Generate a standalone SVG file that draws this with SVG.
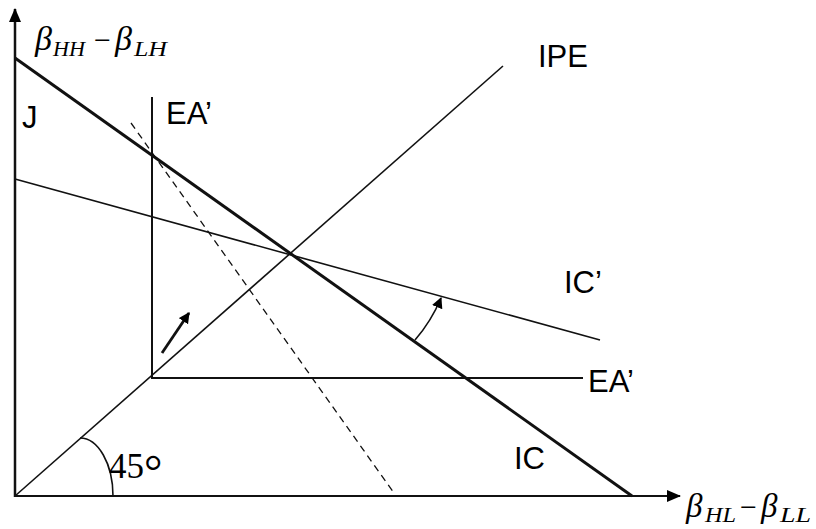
<svg xmlns="http://www.w3.org/2000/svg" width="816" height="529" viewBox="0 0 816 529">
<defs>
<marker id="ah" viewBox="0 0 10 10" refX="9" refY="5" markerWidth="11" markerHeight="11" markerUnits="userSpaceOnUse" orient="auto">
<path d="M0,0 L10,5 L0,10 z" fill="#000"/>
</marker>
<marker id="axh" viewBox="0 0 14 12" refX="13" refY="6" markerWidth="14" markerHeight="12" markerUnits="userSpaceOnUse" orient="auto">
<path d="M0,0 L14,6 L0,12 z" fill="#000"/>
</marker>
</defs>
<style>
.lbl{font-family:"Liberation Sans",Arial,sans-serif;font-size:31px;fill:#000}
.sym{font-family:"Liberation Serif","Times New Roman",serif;font-style:italic;fill:#000}
.up{font-family:"Liberation Serif","Times New Roman",serif;font-style:normal;fill:#000}
.ln{fill:none;stroke:#111}
</style>
<rect width="816" height="529" fill="#fff"/>
<g id="connectors">
<line id="y-axis" class="ln" x1="15" y1="497" x2="15" y2="9" stroke="#666" stroke-width="2.5" marker-end="url(#axh)"/>
<line id="x-axis" class="ln" x1="14" y1="496" x2="680" y2="496" stroke-width="2.2" marker-end="url(#axh)"/>
<line id="IC-line" class="ln" x1="15" y1="58" x2="632" y2="496" stroke-width="3"/>
<line id="IPE-line" class="ln" x1="15" y1="496" x2="503" y2="66" stroke="#333" stroke-width="1.6"/>
<line id="ICp-line" class="ln" x1="15" y1="179" x2="600" y2="340" stroke="#222" stroke-width="1.6"/>
<polyline id="EA-lines" class="ln" points="152,97 152,378 583,378" stroke-width="2"/>
<line id="dashed" class="ln" x1="131" y1="123" x2="394" y2="493" stroke="#333" stroke-width="1.3" stroke-dasharray="7,5"/>
<line id="shift-arrow" class="ln" x1="162" y1="353" x2="189" y2="313" stroke-width="2.8" marker-end="url(#ah)"/>
<path id="rot-arrow" class="ln" d="M415,340 A155,155 0 0,0 441,298" stroke-width="1.6" marker-end="url(#ah)"/>
<path id="angle-arc" class="ln" d="M80,438 A33,58 0 0,1 113,496" stroke="#333" stroke-width="1.6"/>
</g>
<g id="labels">
<g id="y-label">
<text class="sym" x="35" y="50" font-size="34">β</text>
<text class="sym" x="53" y="56" font-size="22" textLength="32" lengthAdjust="spacingAndGlyphs">HH</text>
<text class="up" x="94" y="50" font-size="30">−</text>
<text class="sym" x="115" y="50" font-size="34">β</text>
<text class="sym" x="134" y="56" font-size="22" textLength="33" lengthAdjust="spacingAndGlyphs">LH</text>
</g>
<g id="x-label">
<text class="sym" x="686" y="517" font-size="33">β</text>
<text class="sym" x="705" y="522" font-size="21" textLength="31" lengthAdjust="spacingAndGlyphs">HL</text>
<text class="up" x="740" y="517" font-size="30">−</text>
<text class="sym" x="761" y="517" font-size="33">β</text>
<text class="sym" x="780" y="522" font-size="21" textLength="31" lengthAdjust="spacingAndGlyphs">LL</text>
</g>
<g id="node-J"><text class="lbl" x="22" y="128" font-size="28">J</text></g>
<g id="node-EA-top"><text class="lbl" x="166" y="124">EA’</text></g>
<g id="node-IPE"><text class="lbl" x="538" y="67">IPE</text></g>
<g id="node-ICp"><text class="lbl" x="564" y="293">IC’</text></g>
<g id="node-EA-right"><text class="lbl" x="588" y="392">EA’</text></g>
<g id="node-IC"><text class="lbl" x="514" y="469">IC</text></g>
<g id="node-45"><text class="up" x="109" y="478" font-size="35">45<tspan font-size="46" dy="9">°</tspan></text></g>
</g>
</svg>
